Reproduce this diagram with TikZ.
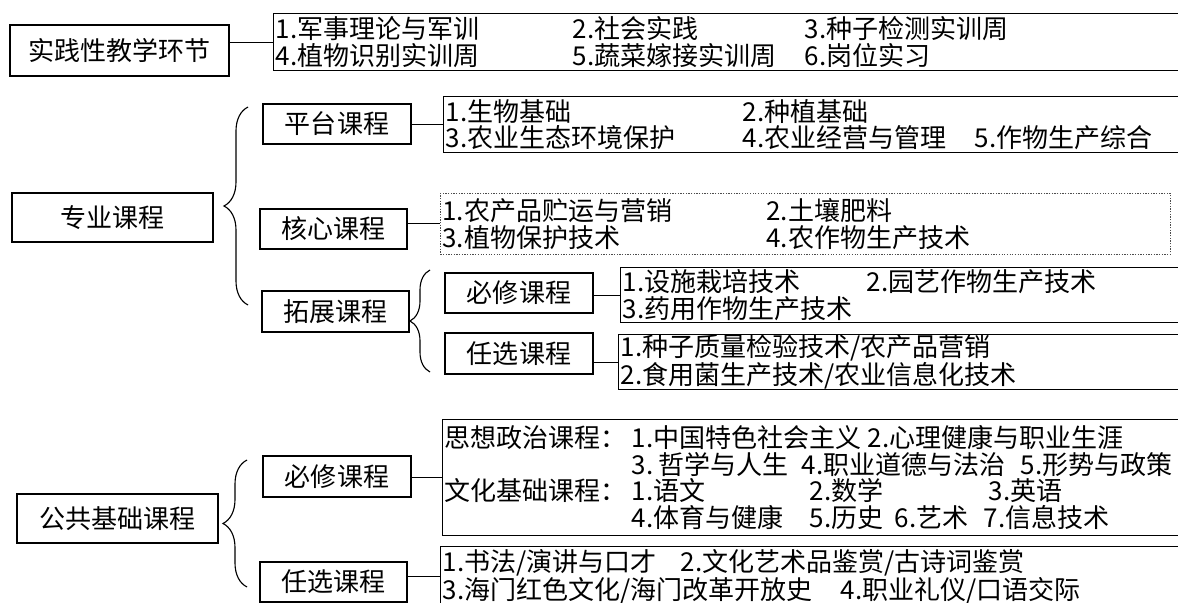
\documentclass[tikz,border=0pt]{standalone}
\usepackage{fontspec}
\setmainfont{Noto Sans CJK SC}
\usetikzlibrary{decorations.pathreplacing}

\newlength{\pxu}
\setlength{\pxu}{0.025cm}
\newcommand{\colbox}[2]{\makebox[#1\pxu][l]{#2}}

\tikzstyle{block} = [draw, rectangle, text centered, line width=0.9pt, inner sep=0pt]
\tikzstyle{listbox} = [draw, rectangle, anchor=north west, align=left, line width=0.9pt, inner xsep=2\pxu, inner ysep=0pt]
\tikzstyle{link} = [draw, line width=0.8pt]
\tikzstyle{brace} = [draw, line width=0.8pt, decorate, decoration={brace, amplitude=0.6cm}]

\begin{document}
\begin{tikzpicture}[x=0.025cm, y=-0.025cm, font=\fontsize{18.5pt}{19pt}\selectfont]
	\useasboundingbox (0,0) rectangle (1178,603);

	% Practice
	\node [block, minimum width=219\pxu, minimum height=51\pxu] (practice) at (119.5,50.5) {实践性教学环节};
	\node [listbox, text width=903\pxu, minimum height=57\pxu] (practice_list) at (273,13) {\colbox{297}{1.军事理论与军训}\colbox{232}{2.社会实践}3.种子检测实训周\\\colbox{297}{4.植物识别实训周}\colbox{232}{5.蔬菜嫁接实训周}6.岗位实习};
	\draw [link] (practice_list.west -| practice.east) -- (practice_list.west);

	% Major courses
	\node [block, minimum width=201\pxu, minimum height=49\pxu] (major) at (112.5,217.5) {专业课程};
	\node [block, minimum width=148\pxu, minimum height=40\pxu] (platform) at (337,124) {平台课程};
	\node [block, minimum width=147\pxu, minimum height=40\pxu] (core) at (333.5,229) {核心课程};
	\node [block, minimum width=147\pxu, minimum height=41\pxu] (ext) at (335.5,311.5) {拓展课程};
	\node [block, minimum width=148\pxu, minimum height=40\pxu] (ext_req) at (519,293) {必修课程};
	\node [block, minimum width=148\pxu, minimum height=41\pxu] (ext_opt) at (519,353.5) {任选课程};

	\node [listbox, text width=733\pxu, minimum height=56\pxu] (platform_list) at (443,96) {\colbox{297}{1.生物基础}2.种植基础\\\colbox{297}{3.农业生态环境保护}\colbox{232}{4.农业经营与管理}5.作物生产综合};
	\node [listbox, text width=726\pxu, minimum height=61\pxu, densely dotted, line width=0.6pt, draw=black!70] (core_list) at (440,193) {\colbox{324}{1.农产品贮运与营销}2.土壤肥料\\\colbox{324}{3.植物保护技术}4.农作物生产技术};
	\node [listbox, text width=556\pxu, minimum height=55\pxu] (ext_req_list) at (620,267) {\colbox{244}{1.设施栽培技术}2.园艺作物生产技术\\3.药用作物生产技术};
	\node [listbox, text width=558\pxu, minimum height=53\pxu] (ext_opt_list) at (618,334) {1.种子质量检验技术/农产品营销\\2.食用菌生产技术/农业信息化技术};

	\coordinate (major_top) at (248,107);
	\coordinate (major_bot) at (248,305);
	\draw [brace] (major_bot) -- (major_top);
	\coordinate (ext_top) at (430,270);
	\coordinate (ext_bot) at (430,372);
	\draw [brace, decoration={brace, amplitude=0.5cm}] (ext_bot) -- (ext_top);

	\draw [link] (platform_list.west -| platform.east) -- (platform_list.west);
	\draw [link] (core_list.west -| core.east) -- (core_list.west);
	\draw [link] (ext_req_list.west -| ext_req.east) -- (ext_req_list.west);
	\draw [link] (ext_opt_list.west -| ext_opt.east) -- (ext_opt_list.west);

	% Public courses
	\node [block, minimum width=201\pxu, minimum height=49\pxu] (public) at (117.5,518.5) {公共基础课程};
	\node [block, minimum width=148\pxu, minimum height=41\pxu] (pub_req) at (337,476.5) {必修课程};
	\node [block, minimum width=147\pxu, minimum height=40\pxu] (pub_opt) at (333.5,582) {任选课程};

	\node [listbox, text width=734\pxu, minimum height=116\pxu] (pub_req_list) at (442,419) {\colbox{187}{思想政治课程：}\colbox{236}{1.中国特色社会主义}2.心理健康与职业生涯\\\colbox{187}{}\colbox{170}{3.\hspace{5\pxu}哲学与人生}\colbox{219}{4.职业道德与法治}5.形势与政策\\\colbox{187}{文化基础课程：}\colbox{178}{1.语文}\colbox{179}{2.数学}3.英语\\\colbox{187}{}\colbox{178}{4.体育与健康}\colbox{85}{5.历史}\colbox{89}{6.艺术}7.信息技术};
	\node [listbox, text width=736\pxu, minimum height=60\pxu] (pub_opt_list) at (440,546) {\colbox{238}{1.书法/演讲与口才}2.文化艺术品鉴赏/古诗词鉴赏\\\colbox{398}{3.海门红色文化/海门改革开放史}4.职业礼仪/口语交际};

	\coordinate (public_top) at (247,460);
	\coordinate (public_bot) at (247,587);
	\draw [brace] (public_bot) -- (public_top);

	\draw [link] (pub_req_list.west -| pub_req.east) -- (pub_req_list.west);
	\draw [link] (pub_opt_list.west -| pub_opt.east) -- (pub_opt_list.west);
\end{tikzpicture}
\end{document}
